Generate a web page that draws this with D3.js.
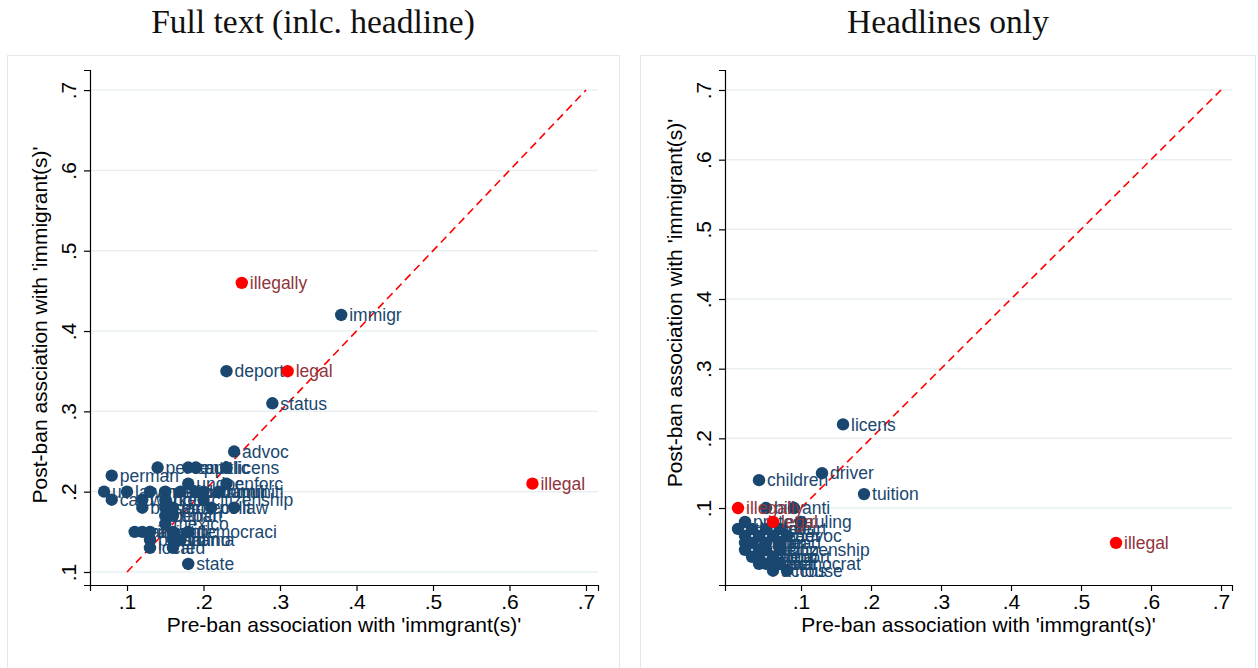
<!DOCTYPE html>
<html><head><meta charset="utf-8">
<script src="https://cdn.jsdelivr.net/npm/d3@7"></script>
<style>body{margin:0;background:#fff}svg{display:block}</style>
</head><body>
<script>
// ---- Data: Full text (incl. headline) ----
const fullWords = ["illegally","immigr","deport","legal","status","advoc","illegal","perman","percent","capit","public","licens","undoc","enforc","us","lawmak","american","polici","feder","communiti","countri","famili","card","worker","right","citizenship","border","secur","protect","polit","law","depart","offici","mexico","crimin","arrest","agent","polic","democraci","presid","obama","latino","local","fed","state"];
const fullPre  = [0.25,0.38,0.23,0.31,0.29,0.24,0.63,0.08,0.14,0.18,0.19,0.23,0.18,0.23,0.07,0.10,0.13,0.15,0.17,0.19,0.20,0.22,0.08,0.12,0.15,0.20,0.12,0.15,0.16,0.21,0.24,0.15,0.16,0.15,0.11,0.12,0.13,0.16,0.18,0.13,0.16,0.17,0.13,0.16,0.18];
const fullPost = [0.46,0.42,0.35,0.35,0.31,0.25,0.21,0.22,0.23,0.23,0.23,0.23,0.21,0.21,0.20,0.20,0.20,0.20,0.20,0.20,0.20,0.20,0.19,0.19,0.19,0.19,0.18,0.18,0.18,0.18,0.18,0.17,0.17,0.16,0.15,0.15,0.15,0.15,0.15,0.14,0.14,0.14,0.13,0.13,0.11];
const fullRed  = ["illegally","legal","illegal"];

// ---- Data: Headlines only ----
const headWords = ["licens","driver","tuition","children","illegal","illegally","bill","anti","legal","protest","ruling","student","law","state","court","polic","new","feder","advoc","immigr","work","plan","lead","us","rule","group","citizenship","obama","reform","deport","vote","senat","texa","democrat","accus","house"];
const headPre  = [0.16,0.13,0.19,0.04,0.55,0.01,0.05,0.09,0.06,0.02,0.10,0.01,0.03,0.05,0.07,0.02,0.04,0.06,0.08,0.02,0.03,0.05,0.07,0.02,0.04,0.05,0.07,0.03,0.04,0.06,0.04,0.05,0.06,0.07,0.06,0.08];
const headPost = [0.22,0.15,0.12,0.14,0.05,0.10,0.10,0.10,0.08,0.08,0.08,0.07,0.07,0.07,0.07,0.06,0.06,0.06,0.06,0.05,0.05,0.05,0.05,0.04,0.04,0.04,0.04,0.03,0.03,0.03,0.02,0.02,0.02,0.02,0.01,0.01];
const headRed  = ["illegally","legal","illegal"];

const tickVals = [0.1,0.2,0.3,0.4,0.5,0.6,0.7];
const tickLabels = [".1",".2",".3",".4",".5",".6",".7"];
const panelTitles = ["Full text (inlc. headline)","Headlines only"];
const xTitles = ["Pre-ban association with 'immgrant(s)'","Pre-ban association with 'immgrant(s)'"];
const yTitles = ["Post-ban assciation with 'immigrant(s)'","Post-ban association with 'immigrant(s)'"];

const W = 1258, H = 668;
const svg = d3.select("body").append("svg").attr("width", W).attr("height", H);

const BLUE = "#1a476f", RED = "#ff0000", REDLAB = "#90353b", GRID = "#e9eff1";
const SANS = "'Liberation Sans',Arial,sans-serif";

function panel(opt) {
  const g = svg.append("g");
  g.append("rect").attr("x", opt.frame[0]+0.5).attr("y", opt.frame[1]+0.5)
    .attr("width", opt.frame[2]).attr("height", opt.frame[3])
    .attr("fill", "#fff").attr("stroke", "#e3eaed").attr("stroke-width", 1);
  g.append("text").attr("x", opt.titleX).attr("y", 33).attr("text-anchor","middle")
    .attr("font-family","'Liberation Serif','DejaVu Serif',serif").attr("font-size", 33.5)
    .attr("fill","#111").text(opt.title);

  const x = d3.scaleLinear().domain(opt.xDom).range(opt.xRange);
  const y = d3.scaleLinear().domain(opt.yDom).range(opt.yRange);

  g.append("g").selectAll("line").data(tickVals).join("line")
    .attr("x1", opt.xRange[0]).attr("x2", opt.xRange[1])
    .attr("y1", d => y(d)).attr("y2", d => y(d))
    .attr("stroke", GRID).attr("stroke-width", 1.5);

  const xa = g.append("g").attr("transform", `translate(0,${opt.yRange[0]})`)
    .call(d3.axisBottom(x).tickValues(tickVals).tickFormat((d,i)=>tickLabels[i]).tickSize(6).tickPadding(3));
  const ya = g.append("g").attr("transform", `translate(${opt.xRange[0]},0)`)
    .call(d3.axisLeft(y).tickValues(tickVals).tickFormat((d,i)=>tickLabels[i]).tickSize(6).tickPadding(4));
  [xa, ya].forEach(a => {
    a.select(".domain").attr("stroke","#000").attr("stroke-width",1.2);
    a.selectAll(".tick line").attr("stroke","#000").attr("stroke-width",1.2);
    a.selectAll(".tick text").attr("font-family",SANS)
      .attr("font-size",21).attr("fill","#000");
  });
  ya.selectAll(".tick text").each(function(){
    d3.select(this).attr("x",0).attr("y",0).attr("dy","0").attr("text-anchor","middle")
      .attr("transform", `translate(-14,0) rotate(-90)`);
  });

  g.append("text").attr("x", (opt.xRange[0]+opt.xRange[1])/2).attr("y", opt.yRange[0]+47)
    .attr("text-anchor","middle").attr("font-family",SANS)
    .attr("font-size",21).attr("fill","#000").text(opt.xTitle);
  g.append("text").attr("transform", `translate(${opt.xRange[0]-43},${opt.yTitleY}) rotate(-90)`)
    .attr("text-anchor","middle").attr("font-family",SANS)
    .attr("font-size",21).attr("fill","#000").text(opt.yTitle);

  g.append("line").attr("x1", x(0.1)).attr("y1", y(0.1)).attr("x2", x(0.7)).attr("y2", y(0.7))
    .attr("stroke", RED).attr("stroke-width", 1.6).attr("stroke-dasharray","8,5");

  const data = opt.words.map((w,i)=>({w, px: opt.pre[i], py: opt.post[i], red: opt.red.includes(w)}));
  data.sort((a,b)=> (a.red?1:0)-(b.red?1:0));
  const pts = g.append("g");
  data.forEach(d => {
    pts.append("circle").attr("cx", x(d.px)).attr("cy", y(d.py)).attr("r", 6.2)
      .attr("fill", d.red ? RED : BLUE);
    pts.append("text").attr("x", x(d.px)+8).attr("y", y(d.py)).attr("dy","0.36em")
      .attr("font-family",SANS).attr("font-size",17.5)
      .attr("fill", d.red ? REDLAB : BLUE).text(d.w);
  });
}

panel({
  frame:[7,55,612,620], title: panelTitles[0], titleX: 313,
  xDom:[0.0516,0.7157], xRange:[90,598],
  yDom:[0.0838,0.725], yRange:[585,70],
  xTitle: xTitles[0], yTitle: yTitles[0], yTitleY: 325,
  words: fullWords, pre: fullPre, post: fullPost, red: fullRed
});
panel({
  frame:[640,55,615,620], title: panelTitles[1], titleX: 948,
  xDom:[-0.0086,0.7157], xRange:[725,1232],
  yDom:[-0.0105,0.7287], yRange:[585,70],
  xTitle: xTitles[1], yTitle: yTitles[1], yTitleY: 303,
  words: headWords, pre: headPre, post: headPost, red: headRed
});
</script>
</body></html>
